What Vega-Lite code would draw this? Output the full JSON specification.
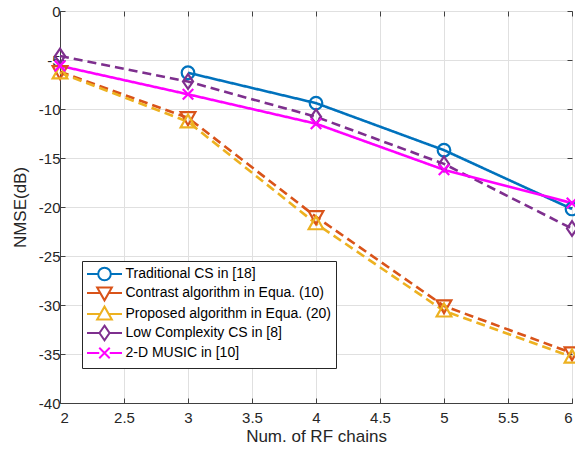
{
  "$schema": "https://vega.github.io/schema/vega-lite/v6.json",
  "width": 512,
  "height": 392,
  "autosize": {"type": "none"},
  "padding": {"left": 60, "top": 11, "right": 3, "bottom": 47},
  "background": "white",
  "config": {
    "view": {"stroke": "#404040", "strokeWidth": 1},
    "font": "Liberation Sans",
    "axis": {
      "labelFont": "Liberation Sans",
      "titleFont": "Liberation Sans",
      "labelFontSize": 15,
      "titleFontSize": 17,
      "titleFontWeight": "normal",
      "labelColor": "#262626",
      "titleColor": "#262626",
      "domainColor": "#404040",
      "tickColor": "#404040",
      "gridColor": "#e0e0e0",
      "gridWidth": 1,
      "tickSize": -5
    }
  },
  "data": {
    "values": [
      {"x": 3, "y": -6.3, "s": "Traditional CS in [18]"},
      {"x": 4, "y": -9.4, "s": "Traditional CS in [18]"},
      {"x": 5, "y": -14.2, "s": "Traditional CS in [18]"},
      {"x": 6, "y": -20.2, "s": "Traditional CS in [18]"},
      {"x": 2, "y": -6.2, "s": "Contrast algorithm in Equa. (10)"},
      {"x": 3, "y": -10.9, "s": "Contrast algorithm in Equa. (10)"},
      {"x": 4, "y": -21.0, "s": "Contrast algorithm in Equa. (10)"},
      {"x": 5, "y": -30.1, "s": "Contrast algorithm in Equa. (10)"},
      {"x": 6, "y": -34.9, "s": "Contrast algorithm in Equa. (10)"},
      {"x": 2, "y": -6.3, "s": "Proposed algorithm in Equa. (20)"},
      {"x": 3, "y": -11.3, "s": "Proposed algorithm in Equa. (20)"},
      {"x": 4, "y": -21.7, "s": "Proposed algorithm in Equa. (20)"},
      {"x": 5, "y": -30.6, "s": "Proposed algorithm in Equa. (20)"},
      {"x": 6, "y": -35.3, "s": "Proposed algorithm in Equa. (20)"},
      {"x": 2, "y": -4.6, "s": "Low Complexity CS in [8]"},
      {"x": 3, "y": -7.2, "s": "Low Complexity CS in [8]"},
      {"x": 4, "y": -10.8, "s": "Low Complexity CS in [8]"},
      {"x": 5, "y": -15.6, "s": "Low Complexity CS in [8]"},
      {"x": 6, "y": -22.2, "s": "Low Complexity CS in [8]"},
      {"x": 2, "y": -5.6, "s": "2-D MUSIC in [10]"},
      {"x": 3, "y": -8.5, "s": "2-D MUSIC in [10]"},
      {"x": 4, "y": -11.5, "s": "2-D MUSIC in [10]"},
      {"x": 5, "y": -16.2, "s": "2-D MUSIC in [10]"},
      {"x": 6, "y": -19.6, "s": "2-D MUSIC in [10]"}
    ]
  },
  "layer": [
    {
      "mark": {"type": "line", "strokeWidth": 2.6, "clip": false},
      "encoding": {
        "x": {"field": "x", "type": "quantitative", "scale": {"domain": [2, 6], "nice": false, "zero": false},
              "axis": {"values": [2, 2.5, 3, 3.5, 4, 4.5, 5, 5.5, 6], "labelExpr": "'' + datum.value", "title": "Num. of RF chains", "titlePadding": 3, "labelPadding": 12, "grid": true}},
        "y": {"field": "y", "type": "quantitative", "scale": {"domain": [-40, 0], "nice": false, "zero": false},
              "axis": {"values": [-40, -35, -30, -25, -20, -15, -10, -5, 0], "labelExpr": "'' + datum.value", "title": "NMSE(dB)", "titlePadding": 9, "labelPadding": 5, "grid": true}},
        "color": {"field": "s", "type": "nominal", "legend": null,
                  "scale": {"domain": ["Traditional CS in [18]", "Contrast algorithm in Equa. (10)", "Proposed algorithm in Equa. (20)", "Low Complexity CS in [8]", "2-D MUSIC in [10]"],
                            "range": ["#0072BD", "#D95319", "#EDB120", "#7E2F8E", "#FF00FF"]}},
        "strokeDash": {"field": "s", "type": "nominal", "legend": null,
                  "scale": {"domain": ["Traditional CS in [18]", "Contrast algorithm in Equa. (10)", "Proposed algorithm in Equa. (20)", "Low Complexity CS in [8]", "2-D MUSIC in [10]"],
                            "range": [[1, 0], [9, 5], [9, 5], [9, 5], [1, 0]]}}
      }
    },
    {
      "mark": {"type": "point", "filled": false, "strokeWidth": 2.2, "opacity": 1, "clip": false},
      "encoding": {
        "x": {"field": "x", "type": "quantitative", "axis": null},
        "y": {"field": "y", "type": "quantitative", "axis": null},
        "size": {"value": 196},
        "color": {"field": "s", "type": "nominal", "legend": null,
                  "scale": {"domain": ["Traditional CS in [18]", "Contrast algorithm in Equa. (10)", "Proposed algorithm in Equa. (20)", "Low Complexity CS in [8]", "2-D MUSIC in [10]"],
                            "range": ["#0072BD", "#D95319", "#EDB120", "#7E2F8E", "#FF00FF"]}},
        "shape": {"field": "s", "type": "nominal", "legend": null,
                  "scale": {"domain": ["Traditional CS in [18]", "Contrast algorithm in Equa. (10)", "Proposed algorithm in Equa. (20)", "Low Complexity CS in [8]", "2-D MUSIC in [10]"],
                            "range": [
                              "M0.9,0A0.9,0.9 0 1,1 -0.9,0A0.9,0.9 0 1,1 0.9,0Z",
                              "M-1.05,-0.8L1.05,-0.8L0,1.05Z",
                              "M-1.05,0.8L1.05,0.8L0,-1.05Z",
                              "M0,-1.05L0.72,0L0,1.05L-0.72,0Z",
                              "M-0.75,-0.75L0.75,0.75M-0.75,0.75L0.75,-0.75"
                            ]}}
      }
    },
    {
      "mark": {"type": "point", "filled": false, "strokeWidth": 2, "opacity": 0, "clip": false},
      "encoding": {
        "x": {"field": "x", "type": "quantitative",
              "axis": {"orient": "top", "labels": false, "domain": false, "grid": false, "title": null, "values": [2, 2.5, 3, 3.5, 4, 4.5, 5, 5.5, 6]}},
        "y": {"field": "y", "type": "quantitative",
              "axis": {"orient": "right", "labels": false, "domain": false, "grid": false, "title": null, "values": [-40, -35, -30, -25, -20, -15, -10, -5, 0]}},
        "size": {"value": 196},
        "color": {"field": "s", "type": "nominal",
                  "scale": {"domain": ["Traditional CS in [18]", "Contrast algorithm in Equa. (10)", "Proposed algorithm in Equa. (20)", "Low Complexity CS in [8]", "2-D MUSIC in [10]"],
                            "range": ["#0072BD", "#D95319", "#EDB120", "#7E2F8E", "#FF00FF"]},
                  "legend": {"orient": "none", "legendX": 22, "legendY": 250, "title": null,
                             "padding": 5, "strokeColor": "#262626", "fillColor": "white", "cornerRadius": 0,
                             "labelFont": "Liberation Sans", "labelFontSize": 14, "labelColor": "#000000",
                             "symbolSize": 196, "symbolStrokeWidth": 2, "symbolOpacity": 1, "symbolOffset": 9.5,
                             "labelOffset": 13, "rowPadding": -3, "labelLimit": 400}},
        "shape": {"field": "s", "type": "nominal",
                  "scale": {"domain": ["Traditional CS in [18]", "Contrast algorithm in Equa. (10)", "Proposed algorithm in Equa. (20)", "Low Complexity CS in [8]", "2-D MUSIC in [10]"],
                            "range": [
                              "M-2.5,0H-0.9M0.9,0H2.5M0.9,0A0.9,0.9 0 1,1 -0.9,0A0.9,0.9 0 1,1 0.9,0Z",
                              "M-2.5,0H-0.55M0.55,0H2.5M-1.05,-0.8L1.05,-0.8L0,1.05Z",
                              "M-2.5,0H-0.55M0.55,0H2.5M-1.05,0.8L1.05,0.8L0,-1.05Z",
                              "M-2.5,0H-0.72M0.72,0H2.5M0,-1.05L0.72,0L0,1.05L-0.72,0Z",
                              "M-2.5,0H-0.75M0.75,0H2.5M-0.75,-0.75L0.75,0.75M-0.75,0.75L0.75,-0.75"
                            ]},
                  "legend": {"orient": "none", "legendX": 22, "legendY": 250, "title": null,
                             "padding": 5, "strokeColor": "#262626", "fillColor": "white", "cornerRadius": 0,
                             "labelFont": "Liberation Sans", "labelFontSize": 14, "labelColor": "#000000",
                             "symbolSize": 196, "symbolStrokeWidth": 2, "symbolOpacity": 1, "symbolOffset": 9.5,
                             "labelOffset": 13, "rowPadding": -3, "labelLimit": 400}}
      }
    }
  ],
  "resolve": {
    "scale": {"color": "independent", "shape": "independent"},
    "axis": {"x": "independent", "y": "independent"}
  }
}
